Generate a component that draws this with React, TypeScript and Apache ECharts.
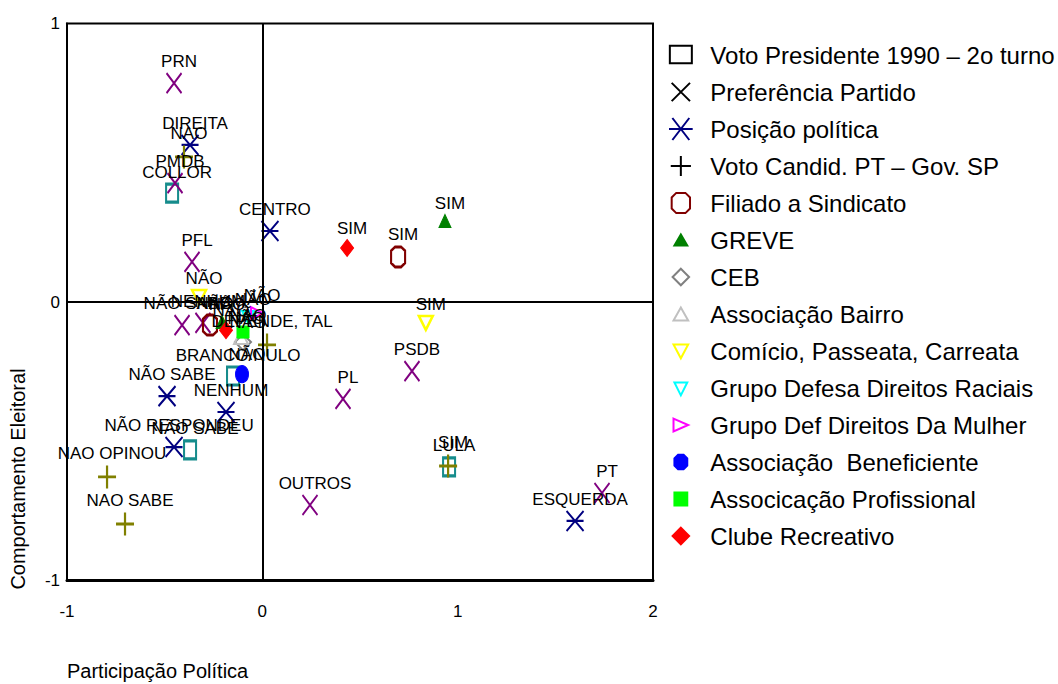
import React, { useEffect, useRef } from "react";
import * as echarts from "echarts";

const FONT = "'Liberation Sans', Arial, Helvetica, sans-serif";

// ---- tick values ----
const xTicks = [-1, 0, 1, 2];
const yTicks = [-1, 0, 1];

// ---- series data ----
const votoPresLabels = ["COLLOR", "LULA", "BRANCO/NULO", "NÃO SABE"];
const votoPresX = [-0.462, 0.956, -0.15, -0.37];
const votoPresY = [0.391, -0.592, -0.266, -0.531];

const prefLabels = ["PRN", "PMDB", "PFL", "PSDB", "PL", "OUTROS", "PT", "NÃO SABE", "NENHUM"];
const prefX = [-0.452, -0.447, -0.36, 0.766, 0.413, 0.244, 1.739, -0.411, -0.304];
const prefY = [0.786, 0.427, 0.144, -0.248, -0.348, -0.729, -0.686, -0.083, -0.075];

const posLabels = ["DIREITA", "CENTRO", "ESQUERDA", "NENHUM", "NÃO SABE", "NÃO RESPONDEU"];
const posX = [-0.37, 0.039, 1.601, -0.186, -0.488, -0.452];
const posY = [0.564, 0.255, -0.786, -0.395, -0.338, -0.521];

const candLabels = ["NAO", "NAO OPINOU", "NAO SABE", "SIM", "DEPENDE, TAL"];
const candX = [-0.401, -0.795, -0.703, 0.951, 0.024];
const candY = [0.521, -0.628, -0.797, -0.589, -0.154];

const sindLabels = ["SIM", "NÃO"];
const sindX = [0.695, -0.268];
const sindY = [0.162, -0.083];

const greveLabels = ["SIM", "NÃO"];
const greveX = [0.935, -0.206];
const greveY = [0.291, -0.072];

const cebLabels = ["NÃO"];
const cebX = [-0.099];
const cebY = [-0.144];

const bairroLabels = ["NÃO"];
const bairroX = [-0.109];
const bairroY = [-0.126];

const comicioLabels = ["SIM", "NÃO"];
const comicioX = [0.837, -0.324];
const comicioY = [-0.075, 0.018];

const raciaisLabels = ["NÃO"];
const raciaisX = [-0.073];
const raciaisY = [-0.054];

const mulherLabels = ["NÃO"];
const mulherX = [-0.027];
const mulherY = [-0.04];

const benefLabels = ["NÃO"];
const benefX = [-0.104];
const benefY = [-0.259];

const profLabels = ["NÃO"];
const profX = [-0.099];
const profY = [-0.108];

const clubeLabels = ["SIM", "NÃO"];
const clubeX = [0.434, -0.186];
const clubeY = [0.194, -0.101];

// ---- symbols ----
const SYM_X = "path://M0,0L15,20M15,0L0,20";
const SYM_STAR = "path://M0,0L17,20M17,0L0,20M0,10L17,10";
const SYM_PLUS = "path://M9,0L9,23M0,11.5L18,11.5";
const SYM_OCT = "path://M4,0L10,0L14,4L14,16L10,20L4,20L0,16L0,4Z";
const SYM_DOWN = "path://M0,0L14,0L7,13Z";
const SYM_RIGHT = "path://M0,0L13,6.5L0,13Z";

// legend icons (drawn inside a 24x24 frame)
const F = "path://M0,0M24,24";
const LEG: Record<string, string> = {
  rect: F + "M0,2L24,2L24,21L0,21Z",
  x: F + "M2,2L22,22M22,2L2,22",
  star: "path://M4,0L24,26M24,0L4,26M0,13L28,13",
  plus: F + "M12,1L12,23M1,12L23,12",
  oct: F + "M7,1L17,1L22,6L22,18L17,23L7,23L2,18L2,6Z",
  greve: F + "M5,18L12,6L19,18Z",
  ceb: F + "M12,3L21,12L12,21L3,12Z",
  bairro: F + "M4,19L12,5L20,19Z",
  comicio: F + "M4,5L20,5L12,20Z",
  raciais: F + "M5,6L19,6L12,20Z",
  mulher: F + "M4,5L20,12L4,19Z",
  benef: F + "M9,4L15,4L19,8L19,16L15,20L9,20L5,16L5,8Z",
  prof: F + "M5,5L19,5L19,19L5,19Z",
  clube: F + "M12,3L21,12L12,21L3,12Z",
};

const TRANSP = "rgba(0,0,0,0)";

function pts(labels: string[], xs: number[], ys: number[]) {
  return labels.map((l, i) => ({ name: l, value: [xs[i], ys[i]] }));
}

function mk(
  name: string,
  data: any[],
  symbol: string,
  size: number[],
  color: string,
  filled: boolean,
  bw: number,
  extra: any = {}
) {
  return {
    type: "scatter",
    name,
    data,
    symbol,
    symbolSize: size,
    itemStyle: {
      color: filled ? color : TRANSP,
      borderColor: color,
      borderWidth: bw,
      opacity: 1,
    },
    label: {
      show: true,
      position: "top",
      distance: 2,
      offset: [5, 0],
      formatter: "{b}",
      color: "#000",
      fontSize: 17,
      fontFamily: FONT,
    },
    emphasis: { disabled: true },
    ...extra,
  };
}

export default function App() {
  const ref = useRef<HTMLDivElement>(null);
  useEffect(() => {
    if (!ref.current) return;
    const chart = echarts.init(ref.current, undefined, { renderer: "svg" });

    const defs: [any, string, string | null][] = [
      [mk("Voto Presidente 1990 – 2o turno", pts(votoPresLabels, votoPresX, votoPresY), "rect", [12, 18], "#168c8c", false, 2.5, {
        markLine: {
          silent: true,
          symbol: ["none", "none"],
          label: { show: false },
          lineStyle: { color: "#000", width: 2, type: "solid", opacity: 1 },
          emphasis: { disabled: true },
          data: [{ xAxis: 0 }, { yAxis: 0 }],
        },
      }), "rect", "#000"],
      [mk("Preferência Partido", pts(prefLabels, prefX, prefY), SYM_X, [15, 20], "#800080", false, 2), "x", "#000"],
      [mk("Posição política", pts(posLabels, posX, posY), SYM_STAR, [17, 20], "#000080", false, 2), "star", null],
      [mk("Voto Candid. PT – Gov. SP", pts(candLabels, candX, candY), SYM_PLUS, [18, 23], "#808000", false, 2.5), "plus", "#000"],
      [mk("Filiado a Sindicato", pts(sindLabels, sindX, sindY), SYM_OCT, [14, 20], "#800000", false, 2.5), "oct", null],
      [mk("GREVE", pts(greveLabels, greveX, greveY), "triangle", [12, 13], "#008000", true, 1), "greve", null],
      [mk("CEB", pts(cebLabels, cebX, cebY), "diamond", [16, 16], "#808080", false, 2), "ceb", null],
      [mk("Associação Bairro", pts(bairroLabels, bairroX, bairroY), "triangle", [14, 14], "#c0c0c0", false, 2), "bairro", null],
      [mk("Comício, Passeata, Carreata", pts(comicioLabels, comicioX, comicioY), SYM_DOWN, [14, 14], "#ffff00", false, 2.5), "comicio", null],
      [mk("Grupo Defesa Direitos Raciais", pts(raciaisLabels, raciaisX, raciaisY), SYM_DOWN, [12, 12], "#00ffff", false, 2), "raciais", null],
      [mk("Grupo Def Direitos Da Mulher", pts(mulherLabels, mulherX, mulherY), SYM_RIGHT, [12, 12], "#ff00ff", false, 2), "mulher", null],
      [mk("Associação  Beneficiente", pts(benefLabels, benefX, benefY), "circle", [13, 17], "#0000ff", true, 1), "benef", null],
      [mk("Associcação Profissional", pts(profLabels, profX, profY), "rect", [12, 12], "#00ff00", true, 1), "prof", null],
      [mk("Clube Recreativo", pts(clubeLabels, clubeX, clubeY), "diamond", [13, 17], "#ff0000", true, 1), "clube", null],
    ];

    const series = defs.map((d) => d[0]);
    const legendData = defs.map(([s, icon, stroke]) => {
      const item: any = { name: s.name, icon: LEG[icon] };
      if (stroke) item.itemStyle = { borderColor: stroke, borderWidth: 2 };
      return item;
    });

    chart.setOption({
      animation: false,
      textStyle: { fontFamily: FONT },
      grid: {
        left: 67,
        right: 405,
        top: 23.5,
        bottom: 103.5,
        show: true,
        borderColor: "#000",
        borderWidth: 2,
        backgroundColor: "transparent",
      },
      xAxis: {
        type: "value",
        min: xTicks[0],
        max: xTicks[xTicks.length - 1],
        interval: 1,
        axisLine: { show: true, onZero: false, lineStyle: { color: "#000", width: 3 } },
        axisTick: { show: false },
        splitLine: { show: false },
        axisLabel: { color: "#000", fontSize: 17, margin: 22, fontFamily: FONT },
      },
      yAxis: {
        type: "value",
        min: yTicks[0],
        max: yTicks[yTicks.length - 1],
        interval: 1,
        axisLine: { show: true, onZero: false, lineStyle: { color: "#000", width: 2 } },
        axisTick: { show: false },
        splitLine: { show: false },
        axisLabel: { color: "#000", fontSize: 17, margin: 7, fontFamily: FONT },
      },
      legend: {
        orient: "vertical",
        left: 663,
        top: 38,
        itemWidth: 49,
        itemHeight: 22,
        itemGap: 13,
        selectedMode: false,
        data: legendData,
        textStyle: { color: "#000", fontSize: 24, fontFamily: FONT },
      },
      graphic: [
        {
          type: "text",
          x: 18,
          y: 479,
          rotation: Math.PI / 2,
          style: {
            text: "Comportamento Eleitoral",
            fill: "#000",
            font: `20px ${FONT}`,
            textAlign: "center",
            textVerticalAlign: "middle",
          },
        },
        {
          type: "text",
          x: 67,
          y: 671,
          style: {
            text: "Participação Política",
            fill: "#000",
            font: `20px ${FONT}`,
            textAlign: "left",
            textVerticalAlign: "middle",
          },
        },
      ],
      series,
    });

    return () => chart.dispose();
  }, []);

  return (
    <div
      ref={ref}
      style={{ position: "fixed", left: 0, top: 0, width: 1058, height: 684, background: "#fff" }}
    />
  );
}
